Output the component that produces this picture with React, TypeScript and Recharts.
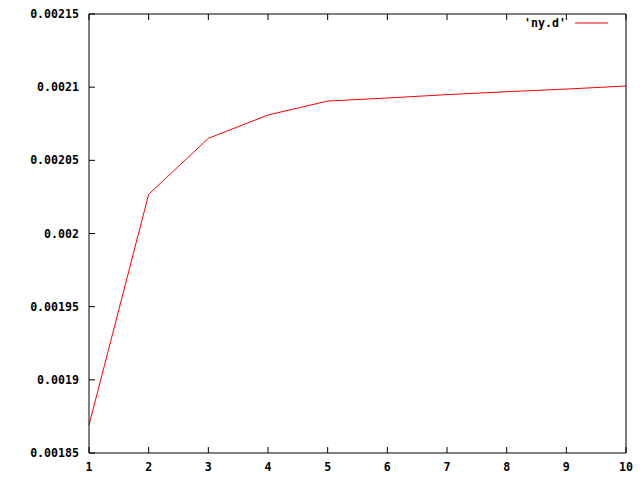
import React from "react";
import { LineChart, Line, XAxis, YAxis } from "recharts";

// values
const xValues = [1, 2, 3, 4, 5, 6, 7, 8, 9, 10];
const nyValues = [
  0.0018691, 0.0020268, 0.002065, 0.002081, 0.0020905, 0.0020926, 0.0020949,
  0.0020969, 0.0020987, 0.0021008,
];
const xTicks = [1, 2, 3, 4, 5, 6, 7, 8, 9, 10];
const yTicks = [0.00185, 0.0019, 0.00195, 0.002, 0.00205, 0.0021, 0.00215];
const seriesName = "'ny.d'";

const data = xValues.map((x, i) => ({ x, ny: nyValues[i] }));

const FONT = "'DejaVu Sans Mono', monospace";
const TICK = 6;

const BottomTick = (props: any) => {
  const { x, y, payload } = props;
  return (
    <g>
      <line x1={x} y1={y} x2={x} y2={y - TICK} stroke="#000" />
      <text
        x={x}
        y={y + 14}
        textAnchor="middle"
        dominantBaseline="central"
        fontFamily={FONT}
        fontWeight="bold"
        fontSize={11.6}
        fill="#000"
      >
        {payload.value}
      </text>
    </g>
  );
};

const TopTick = (props: any) => {
  const { x, y } = props;
  return <line x1={x} y1={y} x2={x} y2={y + TICK} stroke="#000" />;
};

const LeftTick = (props: any) => {
  const { x, y, payload } = props;
  return (
    <g>
      <line x1={x} y1={y} x2={x + TICK} y2={y} stroke="#000" />
      <text
        x={x - 10}
        y={y}
        textAnchor="end"
        dominantBaseline="central"
        fontFamily={FONT}
        fontWeight="bold"
        fontSize={11.6}
        fill="#000"
      >
        {String(payload.value)}
      </text>
    </g>
  );
};

const RightTick = (props: any) => {
  const { x, y } = props;
  return <line x1={x} y1={y} x2={x - TICK} y2={y} stroke="#000" />;
};

export default function App() {
  return (
    <div style={{ position: "fixed", left: 0, top: 0, background: "#fff" }}>
      <LineChart
        width={640}
        height={480}
        data={data}
        margin={{ top: 13, right: 13, left: 0, bottom: 0 }}
      >
        <XAxis
          dataKey="x"
          type="number"
          domain={[1, 10]}
          ticks={xTicks}
          height={27}
          stroke="#000"
          tickSize={0}
          tickMargin={0}
          tickLine={false}
          tick={BottomTick}
          interval={0}
        />
        <XAxis
          xAxisId="top"
          dataKey="x"
          type="number"
          orientation="top"
          domain={[1, 10]}
          ticks={xTicks}
          height={1}
          stroke="#000"
          tickSize={0}
          tickMargin={0}
          tickLine={false}
          tick={TopTick}
          interval={0}
        />
        <YAxis
          type="number"
          domain={[0.00185, 0.00215]}
          ticks={yTicks}
          width={89}
          stroke="#000"
          tickSize={0}
          tickMargin={0}
          tickLine={false}
          tick={LeftTick}
          interval={0}
        />
        <YAxis
          yAxisId="right"
          type="number"
          orientation="right"
          domain={[0.00185, 0.00215]}
          ticks={yTicks}
          width={1}
          stroke="#000"
          tickSize={0}
          tickMargin={0}
          tickLine={false}
          tick={RightTick}
          interval={0}
        />
        <Line
          dataKey="ny"
          stroke="#ff0000"
          strokeWidth={1}
          dot={false}
          activeDot={false}
          isAnimationActive={false}
        />
      </LineChart>
      <div
        style={{
          position: "absolute",
          top: 16,
          right: 30,
          display: "flex",
          alignItems: "center",
          fontFamily: FONT,
          fontWeight: "bold",
          fontSize: 11.6,
        }}
      >
        <span>{seriesName}</span>
        <svg width={44} height={10}>
          <line x1={9} y1={5} x2={42} y2={5} stroke="#ff0000" />
        </svg>
      </div>
    </div>
  );
}
